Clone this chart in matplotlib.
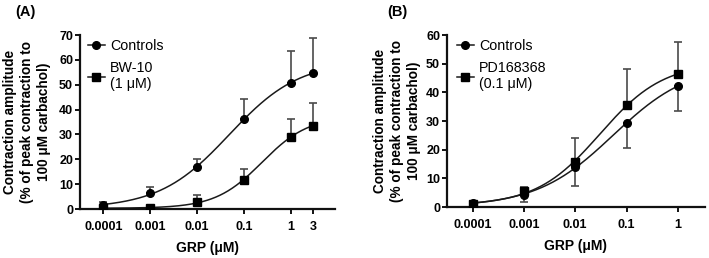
import numpy as np
import matplotlib
matplotlib.use("Agg")
import matplotlib.pyplot as plt

plt.rcParams['font.family'] = ['Liberation Sans', 'DejaVu Sans']

# ---------------- data ----------------
dose_a = [0.0001, 0.001, 0.01, 0.1, 1, 3]
ctrl_a = [1.6, 6.3, 16.8, 36.1, 50.8, 54.6]
ctrl_a_err = [1.3, 2.7, 3.3, 8.1, 12.9, 14.3]
bw10_a = [0.3, 0.3, 2.9, 11.7, 29.1, 33.4]
bw10_a_err = [0.8, 0.4, 2.7, 4.3, 7.0, 9.2]

dose_b = [0.0001, 0.001, 0.01, 0.1, 1]
ctrl_b = [1.5, 4.3, 13.8, 29.3, 42.2]
ctrl_b_err = [0.5, 2.7, 6.4, 8.8, 8.6]      # drawn downward
pd_b = [0.9, 5.5, 15.8, 35.6, 46.3]
pd_b_err = [0.5, 1.5, 8.2, 12.5, 11.1]      # drawn upward

xt_a = [0.0001, 0.001, 0.01, 0.1, 1, 3]
xtl_a = ['0.0001', '0.001', '0.01', '0.1', '1', '3']
xt_b = [0.0001, 0.001, 0.01, 0.1, 1]
xtl_b = ['0.0001', '0.001', '0.01', '0.1', '1']


def fit_4pl(x, y):
    lx = np.log10(np.asarray(x, float))
    y = np.asarray(y, float)
    ec = np.linspace(-3.0, 1.0, 401)[:, None, None]
    h = np.linspace(0.4, 1.6, 121)[None, :, None]
    f = 1.0 / (1.0 + 10 ** ((ec - lx[None, None, :]) * h))
    fm = f.mean(-1, keepdims=True)
    ym = y.mean()
    b = ((f - fm) * (y - ym)).sum(-1, keepdims=True) / ((f - fm) ** 2).sum(-1, keepdims=True)
    a = ym - b * fm
    res = ((a + b * f - y) ** 2).sum(-1)
    i, j = np.unravel_index(np.argmin(res), res.shape)
    return a[i, j, 0], b[i, j, 0], ec[i, 0, 0], h[0, j, 0]


def curve(x, y):
    a, b, ec, h = fit_4pl(x, y)
    xx = np.logspace(np.log10(min(x)), np.log10(max(x)), 300)
    return xx, a + b / (1 + 10 ** ((ec - np.log10(xx)) * h))


fig = plt.figure(figsize=(7.09, 2.58), dpi=100)
W, H = 709, 258
axA = fig.add_axes([80 / W, 1 - 209 / H, 255 / W, 174 / H])
axB = fig.add_axes([447 / W, 1 - 207 / H, 258 / W, 172 / H])

lc = '#1a1a1a'
ec_col = '#4a4a4a'


def series(ax, x, y, err, marker, label, up=True):
    xx, yy = curve(x, y)
    ax.plot(xx, yy, color=lc, lw=1.1, zorder=2)
    e = np.asarray(err)
    z = np.zeros_like(e)
    yerr = [z, e] if up else [e, z]
    ax.errorbar(x, y, yerr=yerr, fmt='none', ecolor=ec_col, elinewidth=1.2,
                capsize=3, capthick=1.2, zorder=3)
    ax.plot(x, y, linestyle='none', marker=marker, color='black', ms=5.5, zorder=4)
    ax.plot([], [], color=lc, lw=1.1, marker=marker, ms=5.5, mfc='black', mec='black', label=label)


def style(ax, xlim, ylim, yticks, xt, xtl, ylab_x):
    ax.set_xscale('log')
    ax.set_xlim(*xlim)
    ax.set_ylim(*ylim)
    ax.set_yticks(yticks)
    ax.set_xticks(xt)
    ax.set_xticklabels(xtl)
    ax.minorticks_off()
    for s in ['top', 'right']:
        ax.spines[s].set_visible(False)
    for s in ['left', 'bottom']:
        ax.spines[s].set_linewidth(1.6)
        ax.spines[s].set_color('#111111')
    ax.tick_params(axis='both', length=3.8, width=1.4, color='#111111', labelsize=9)
    ax.tick_params(axis='x', pad=4.5)
    ax.tick_params(axis='y', pad=1.2)
    for t in ax.get_xticklabels() + ax.get_yticklabels():
        t.set_fontweight('bold')
    ax.set_xlabel('GRP (\u03bcM)', fontsize=10, fontweight='bold', labelpad=6)
    ax.set_ylabel('Contraction amplitude\n(% of peak contraction to\n100 \u03bcM carbachol)',
                  fontsize=9.8, fontweight='bold', linespacing=1.25)
    ax.yaxis.set_label_coords(ylab_x, 0.5)


series(axA, dose_a, ctrl_a, ctrl_a_err, 'o', 'Controls', up=True)
series(axA, dose_a, bw10_a, bw10_a_err, 's', 'BW-10\n(1 \u03bcM)', up=True)
style(axA, (10 ** -4.5, 10 ** 0.95), (0, 70), [0, 10, 20, 30, 40, 50, 60, 70],
      xt_a, xtl_a, -0.115)

series(axB, dose_b, ctrl_b, ctrl_b_err, 'o', 'Controls', up=False)
series(axB, dose_b, pd_b, pd_b_err, 's', 'PD168368\n(0.1 \u03bcM)', up=True)
style(axB, (10 ** -4.5, 10 ** 0.53), (0, 60), [0, 10, 20, 30, 40, 50, 60],
      xt_b, xtl_b, -0.102)

for ax, bx in [(axA, 0.03), (axB, 0.038)]:
    ax.legend(loc='upper left', bbox_to_anchor=(bx, 0.975), frameon=False,
              fontsize=10.3, handlelength=1.2, handletextpad=0.35,
              labelspacing=0.55, borderpad=0, borderaxespad=0)

fig.text(15 / W, 1 - 12 / H, '(A)', fontsize=10.5, fontweight='bold', va='center', ha='left')
fig.text(387 / W, 1 - 12 / H, '(B)', fontsize=10.5, fontweight='bold', va='center', ha='left')

fig.savefig('out.png', dpi=100)
